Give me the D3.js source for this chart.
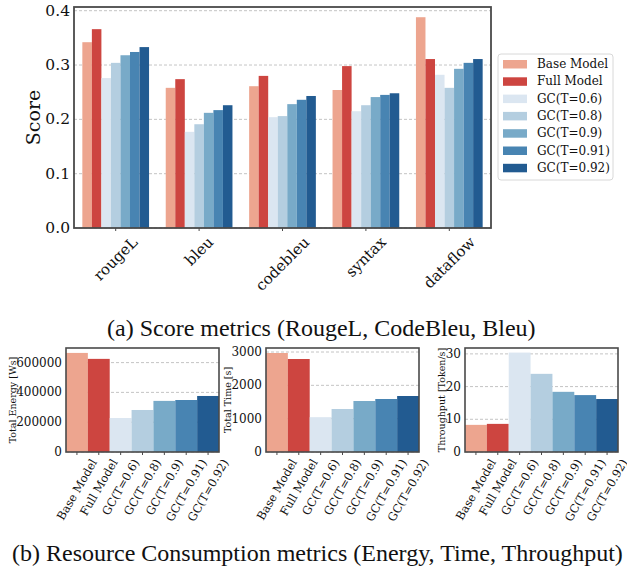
<!DOCTYPE html>
<html><head><meta charset="utf-8">
<script src="https://cdn.jsdelivr.net/npm/d3@7/dist/d3.min.js"></script>
<style>body{margin:0;background:#fff} svg{display:block}</style>
</head><body>
<svg id="c" width="627" height="571"></svg>
<script>
// ---------- data ----------
const metrics = ["rougeL", "bleu", "codebleu", "syntax", "dataflow"];
const models = ["Base Model", "Full Model", "GC(T=0.6)", "GC(T=0.8)", "GC(T=0.9)", "GC(T=0.91)", "GC(T=0.92)"];
const modelColors = ["#eda58f", "#cd4540", "#dbe6f1", "#b4cee0", "#78aac8", "#4884b2", "#225b91"];

const scoreBase = [0.342, 0.258, 0.261, 0.254, 0.388];
const scoreFull = [0.366, 0.274, 0.280, 0.298, 0.311];
const scoreGC06 = [0.276, 0.177, 0.204, 0.215, 0.282];
const scoreGC08 = [0.304, 0.191, 0.206, 0.226, 0.258];
const scoreGC09 = [0.318, 0.212, 0.228, 0.241, 0.293];
const scoreGC091 = [0.324, 0.217, 0.236, 0.245, 0.304];
const scoreGC092 = [0.333, 0.226, 0.243, 0.248, 0.311];
const scoreTicks = [0.0, 0.1, 0.2, 0.3, 0.4];

const energy = [665000, 625000, 228000, 282000, 343000, 349000, 376000];
const energyTicks = [0, 200000, 400000, 600000];
const timeS = [2970, 2790, 1045, 1290, 1530, 1590, 1680];
const timeTicks = [0, 1000, 2000, 3000];
const throughput = [8.3, 8.6, 30.4, 23.9, 18.4, 17.4, 16.2];
const throughputTicks = [0, 10, 20, 30];

const captionA = "(a) Score metrics (RougeL, CodeBleu, Bleu)";
const captionB = "(b) Resource Consumption metrics (Energy, Time, Throughput)";

// ---------- helpers ----------
const svg = d3.select("#c");
const SERIF = "DejaVu Serif";
const FRAME = "#4a4a4a";
const GRID = "#bdbdbd";

function rotLabel(g, x, yTop, text, angle, size) {
  const t = g.append("text").attr("font-family", SERIF).attr("font-size", size)
    .attr("text-anchor", "middle").attr("dominant-baseline", "central")
    .attr("fill", "#111").text(text);
  const L = t.node().getComputedTextLength();
  const h = size * 1.05;
  const a = angle * Math.PI / 180;
  const H = L * Math.sin(a) + h * Math.cos(a);
  t.attr("transform", `translate(${x},${yTop + H / 2}) rotate(${-angle})`);
}

function drawYAxis(g, y, ticks, x0, x1, size, fmt) {
  ticks.forEach(v => {
    g.append("line").attr("x1", x0).attr("x2", x1).attr("y1", y(v)).attr("y2", y(v))
      .attr("stroke", GRID).attr("stroke-width", 0.9).attr("stroke-dasharray", "3,2");
    g.append("text").attr("x", x0 - 4).attr("y", y(v)).attr("text-anchor", "end")
      .attr("dominant-baseline", "central").attr("font-family", SERIF).attr("font-size", size)
      .attr("fill", "#111").text(fmt(v));
  });
}

// ---------- top chart ----------
{
  const left = 74, right = 491, top = 7, bottom = 228;
  const g = svg.append("g");
  const series = [scoreBase, scoreFull, scoreGC06, scoreGC08, scoreGC09, scoreGC091, scoreGC092];
  const x0 = d3.scaleBand().domain(metrics).range([left, right]).paddingInner(0.2).paddingOuter(0.1);
  const x1 = d3.scaleBand().domain(models).range([0, x0.bandwidth()]);
  const y = d3.scaleLinear().domain([0, 0.4068]).range([bottom, top]);

  drawYAxis(g, y, scoreTicks, left, right, 15.5, d3.format(".1f"));

  const rows = [];
  metrics.forEach((m, i) => models.forEach((md, j) => rows.push({ m, md, v: series[j][i], c: modelColors[j] })));
  g.selectAll("rect.bar").data(rows).enter().append("rect")
    .attr("x", d => x0(d.m) + x1(d.md)).attr("width", x1.bandwidth())
    .attr("y", d => y(d.v)).attr("height", d => y(0) - y(d.v)).attr("fill", d => d.c);

  g.append("rect").attr("x", left).attr("y", top).attr("width", right - left).attr("height", bottom - top)
    .attr("fill", "none").attr("stroke", FRAME).attr("stroke-width", 1.8);

  metrics.forEach(m => {
    const cx = x0(m) + x0.bandwidth() / 2;
    g.append("line").attr("x1", cx).attr("x2", cx).attr("y1", bottom).attr("y2", bottom + 3).attr("stroke", FRAME);
    rotLabel(g, cx, bottom + 6, m, 45, 15);
  });

  g.append("text").attr("transform", `translate(33,${(top + bottom) / 2}) rotate(-90)`)
    .attr("text-anchor", "middle").attr("dominant-baseline", "central")
    .attr("font-family", SERIF).attr("font-size", 19).attr("fill", "#111").text("Score");

  // legend
  const lg = svg.append("g");
  lg.append("rect").attr("x", 498).attr("y", 54).attr("width", 115).attr("height", 126)
    .attr("rx", 3).attr("fill", "#fff").attr("stroke", "#d8d8d8").attr("stroke-width", 1);
  models.forEach((md, j) => {
    const yy = 64 + j * 17.3;
    lg.append("rect").attr("x", 503).attr("y", yy - 4).attr("width", 24).attr("height", 8.5).attr("fill", modelColors[j]);
    lg.append("text").attr("x", 537).attr("y", yy).attr("dominant-baseline", "central")
      .attr("font-family", SERIF).attr("font-size", 12).attr("fill", "#111").text(md);
  });
}

// ---------- bottom charts ----------
function smallChart(left, vals, ymax, ticks, ylabel, ylabelX) {
  const right = left + 153, top = 348, bottom = 452;
  const g = svg.append("g");
  const x = d3.scaleBand().domain(models).range([left, right]).padding(0);
  const y = d3.scaleLinear().domain([0, ymax]).range([bottom, top]);
  drawYAxis(g, y, ticks, left, right, 12, d => String(d));
  g.selectAll("rect.bar").data(models).enter().append("rect")
    .attr("x", d => x(d)).attr("width", x.bandwidth())
    .attr("y", (d, i) => y(vals[i])).attr("height", (d, i) => y(0) - y(vals[i]))
    .attr("fill", (d, i) => modelColors[i]);
  g.append("rect").attr("x", left).attr("y", top).attr("width", right - left).attr("height", bottom - top)
    .attr("fill", "none").attr("stroke", FRAME).attr("stroke-width", 1.6);
  models.forEach(md => {
    const cx = x(md) + x.bandwidth() / 2;
    g.append("line").attr("x1", cx).attr("x2", cx).attr("y1", bottom).attr("y2", bottom + 3).attr("stroke", FRAME);
    rotLabel(g, cx, bottom + 5, md, 60, 11.5);
  });
  g.append("text").attr("transform", `translate(${ylabelX},${(top + bottom) / 2}) rotate(-90)`)
    .attr("text-anchor", "middle").attr("dominant-baseline", "central")
    .attr("font-family", SERIF).attr("font-size", 9.5).attr("fill", "#111").text(ylabel);
}
smallChart(66, energy, 698000, energyTicks, "Total Energy [Ws]", 12);
smallChart(266, timeS, 3120, timeTicks, "Total Time [s]", 227);
smallChart(465, throughput, 31.8, throughputTicks, "Throughput [Token/s]", 441);

// ---------- captions ----------
svg.append("text").attr("x", 107).attr("y", 336).attr("text-anchor", "start")
  .attr("font-family", "Liberation Serif").attr("font-size", 24).attr("fill", "#111").text(captionA);
svg.append("text").attr("x", 12).attr("y", 561).attr("text-anchor", "start")
  .attr("font-family", "Liberation Serif").attr("font-size", 24).attr("fill", "#111").text(captionB);
</script>
</body></html>
